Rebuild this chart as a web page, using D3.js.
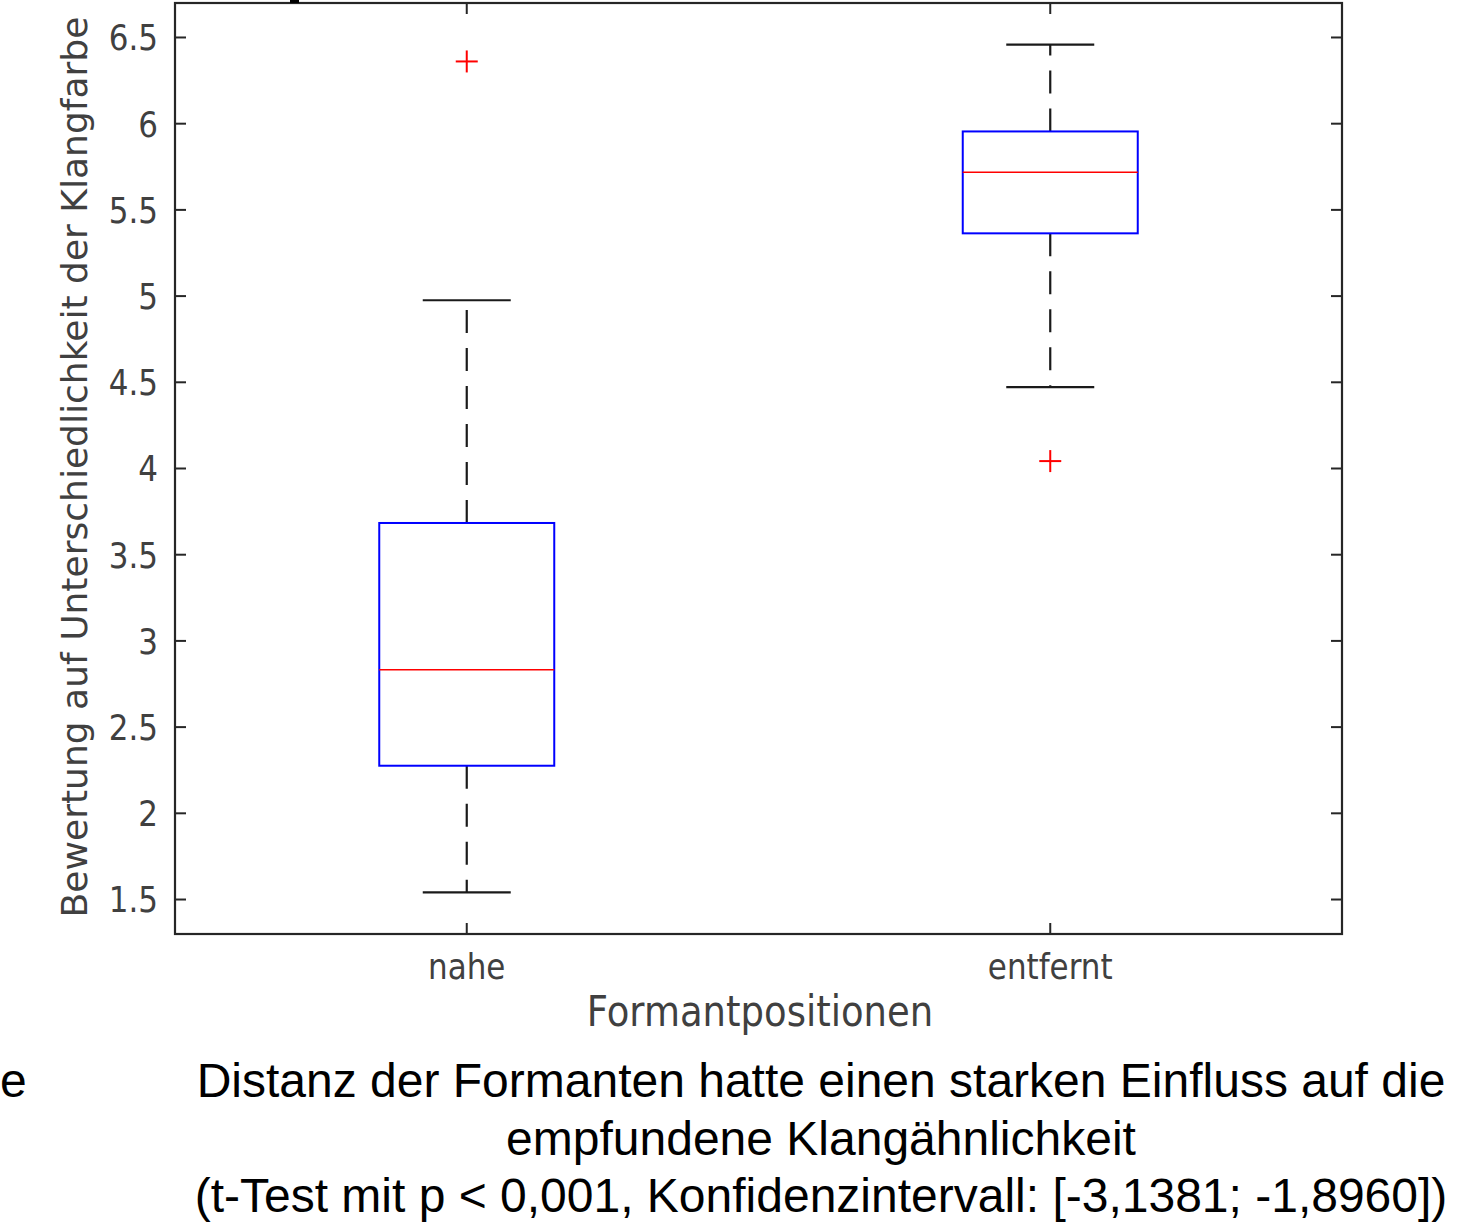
<!DOCTYPE html>
<html><head><meta charset="utf-8">
<script src="https://cdn.jsdelivr.net/npm/d3@7"></script>
<style>body{margin:0;background:#fff;} svg{display:block;}</style>
</head><body>
<script>
const categories = ["nahe", "entfernt"];
const q1 = [2.276, 5.364];
const medians = [2.833, 5.718];
const q3 = [3.684, 5.955];
const whiskerLow = [1.541, 4.472];
const whiskerHigh = [4.976, 6.459];
const outliers = [[6.361], [4.043]];
const yTicks = [1.5, 2, 2.5, 3, 3.5, 4, 4.5, 5, 5.5, 6, 6.5];
const yLabel = "Bewertung auf Unterschiedlichkeit der Klangfarbe";
const xLabel = "Formantpositionen";
const caption = ["Distanz der Formanten hatte einen starken Einfluss auf die",
  "empfundene Klangähnlichkeit",
  "(t-Test mit p < 0,001, Konfidenzintervall: [-3,1381; -1,8960])"];

const W = 1476, H = 1231;
const svg = d3.select("body").append("svg").attr("width", W).attr("height", H);
const L = 175, R = 1342, T = 3, B = 934;
const x = d3.scaleLinear().domain([0.5, 2.5]).range([L, R]);
const y = d3.scaleLinear().domain([1.3, 6.7]).range([B, T]);
const boxHalf = 87.5, capHalf = 44;
const axisColor = "#262626", textColor = "#404040";
const font = "DejaVu Sans";

const g = svg.append("g");
// y ticks
yTicks.forEach(t => {
  g.append("line").attr("x1", L).attr("x2", L + 11).attr("y1", y(t)).attr("y2", y(t)).attr("stroke", axisColor).attr("stroke-width", 2);
  g.append("line").attr("x1", R).attr("x2", R - 11).attr("y1", y(t)).attr("y2", y(t)).attr("stroke", axisColor).attr("stroke-width", 2);
  g.append("text").attr("x", 0).attr("y", 0).attr("dy", "0.36em").attr("text-anchor", "end")
    .attr("font-family", font).attr("font-size", 31).attr("fill", textColor)
    .attr("transform", `translate(${L-17},${y(t)}) scale(1,1.15)`)
    .text(String(t));
});
// x ticks
categories.forEach((c, i) => {
  const cx = x(i + 1);
  g.append("line").attr("x1", cx).attr("x2", cx).attr("y1", B).attr("y2", B - 11).attr("stroke", axisColor).attr("stroke-width", 2);
  g.append("line").attr("x1", cx).attr("x2", cx).attr("y1", T).attr("y2", T + 11).attr("stroke", axisColor).attr("stroke-width", 2);
  g.append("text").attr("x", 0).attr("y", 0).attr("text-anchor", "middle")
    .attr("font-family", font).attr("font-size", 31).attr("fill", textColor)
    .attr("transform", `translate(${cx},979) scale(1,1.15)`)
    .text(c);
});

// boxes
categories.forEach((c, i) => {
  const cx = x(i + 1);
  g.append("line").attr("x1", cx).attr("x2", cx).attr("y1", y(q3[i])).attr("y2", y(whiskerHigh[i]))
    .attr("stroke", "#1a1a1a").attr("stroke-width", 2.2).attr("stroke-dasharray", "23,15");
  g.append("line").attr("x1", cx).attr("x2", cx).attr("y1", y(q1[i])).attr("y2", y(whiskerLow[i]))
    .attr("stroke", "#1a1a1a").attr("stroke-width", 2.2).attr("stroke-dasharray", "23,15");
  g.append("line").attr("x1", cx - capHalf).attr("x2", cx + capHalf).attr("y1", y(whiskerHigh[i])).attr("y2", y(whiskerHigh[i])).attr("stroke", "#1a1a1a").attr("stroke-width", 2.2);
  g.append("line").attr("x1", cx - capHalf).attr("x2", cx + capHalf).attr("y1", y(whiskerLow[i])).attr("y2", y(whiskerLow[i])).attr("stroke", "#1a1a1a").attr("stroke-width", 2.2);
  g.append("rect").attr("x", cx - boxHalf).attr("width", 2 * boxHalf).attr("y", y(q3[i])).attr("height", y(q1[i]) - y(q3[i]))
    .attr("fill", "none").attr("stroke", "#0000ff").attr("stroke-width", 2);
  g.append("line").attr("x1", cx - boxHalf).attr("x2", cx + boxHalf).attr("y1", y(medians[i])).attr("y2", y(medians[i]))
    .attr("stroke", "#ff0000").attr("stroke-width", 1.6);
  outliers[i].forEach(v => {
    g.append("line").attr("x1", cx - 11).attr("x2", cx + 11).attr("y1", y(v)).attr("y2", y(v)).attr("stroke", "#ff0000").attr("stroke-width", 2);
    g.append("line").attr("x1", cx).attr("x2", cx).attr("y1", y(v) - 11).attr("y2", y(v) + 11).attr("stroke", "#ff0000").attr("stroke-width", 2);
  });
});

// frame
g.append("rect").attr("x", L).attr("y", T).attr("width", R - L).attr("height", B - T)
  .attr("fill", "none").attr("stroke", axisColor).attr("stroke-width", 2.2);
g.append("rect").attr("x", 290).attr("y", 0).attr("width", 9).attr("height", 3).attr("fill", "#000");

// axis labels
g.append("text").attr("transform", "translate(87,467) rotate(-90) scale(1.03,1)").attr("text-anchor", "middle")
  .attr("font-family", font).attr("font-size", 35).attr("fill", textColor).text(yLabel);
g.append("text").attr("x", 0).attr("y", 0).attr("text-anchor", "middle")
  .attr("font-family", font).attr("font-size", 37).attr("fill", textColor)
  .attr("transform", "translate(760,1026) scale(1,1.15)")
  .text(xLabel);

// caption
caption.forEach((line, k) => {
  g.append("text").attr("x", 821).attr("y", 1097 + k * 57.5).attr("text-anchor", "middle")
    .attr("font-family", "Liberation Sans, Arial").attr("font-size", 48).attr("fill", "#000").text(line);
});
g.append("text").attr("x", 0).attr("y", 1097).attr("font-family", "Liberation Sans, Arial").attr("font-size", 48).attr("fill", "#000").text("e");
</script>
</body></html>
